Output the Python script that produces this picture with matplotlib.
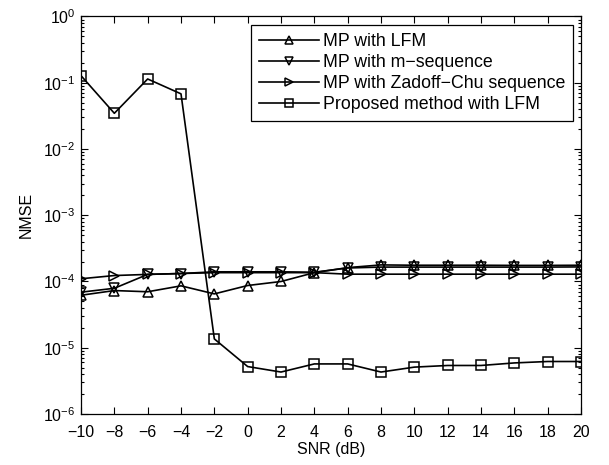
#!/usr/bin/env python3
"""NMSE vs SNR: MP baselines against the proposed method (log scale)."""

import math

import matplotlib
matplotlib.use("Agg")
import matplotlib.pyplot as plt
from matplotlib.ticker import LogLocator, FixedLocator, NullFormatter

plt.rcParams["font.family"] = ["Liberation Sans", "DejaVu Sans"]
plt.rcParams["mathtext.fontset"] = "custom"
plt.rcParams["mathtext.rm"] = "Liberation Sans"
plt.rcParams["mathtext.it"] = "Liberation Sans:italic"

# ─────────────────────────────────────────────
# Data
# ─────────────────────────────────────────────
snr = [-10, -8, -6, -4, -2, 0, 2, 4, 6, 8, 10, 12, 14, 16, 18, 20]

mp_lfm = [6.2e-5, 7.3e-5, 7.0e-5, 8.6e-5, 6.5e-5, 8.7e-5, 1.0e-4, 1.36e-4,
          1.62e-4, 1.78e-4, 1.76e-4, 1.76e-4, 1.76e-4, 1.75e-4, 1.75e-4, 1.76e-4]
mp_mseq = [6.9e-5, 7.9e-5, 1.28e-4, 1.32e-4, 1.4e-4, 1.4e-4, 1.4e-4, 1.38e-4,
           1.6e-4, 1.65e-4, 1.65e-4, 1.65e-4, 1.65e-4, 1.65e-4, 1.65e-4, 1.66e-4]
mp_zc = [1.1e-4, 1.23e-4, 1.28e-4, 1.32e-4, 1.36e-4, 1.36e-4, 1.36e-4, 1.36e-4,
         1.29e-4, 1.29e-4, 1.29e-4, 1.29e-4, 1.29e-4, 1.29e-4, 1.29e-4, 1.29e-4]
proposed = [0.128, 0.0346, 0.114, 0.068, 1.36e-5, 5.2e-6, 4.3e-6, 5.7e-6,
            5.7e-6, 4.3e-6, 5.1e-6, 5.4e-6, 5.4e-6, 5.9e-6, 6.2e-6, 6.2e-6]

y_decades = [1e-6, 1e-5, 1e-4, 1e-3, 1e-2, 1e-1, 1e0]

labels = ["MP with LFM", "MP with m\u2212sequence",
          "MP with Zadoff\u2212Chu sequence", "Proposed method with LFM"]

# ─────────────────────────────────────────────
# Chart
# ─────────────────────────────────────────────
fig = plt.figure(figsize=(6.09, 4.65), dpi=100)
ax = fig.add_axes([81 / 609, 1 - 414 / 465, 500 / 609, 397.5 / 465])

style = dict(color="black", lw=1.2, markerfacecolor="none",
             markeredgecolor="black", markeredgewidth=1.1)
ax.plot(snr, mp_lfm, marker="^", markersize=7.5, label=labels[0], **style)
ax.plot(snr, mp_mseq, marker="v", markersize=7.5, label=labels[1], **style)
ax.plot(snr, mp_zc, marker=">", markersize=7.5, label=labels[2], **style)
ax.plot(snr, proposed, marker="s", markersize=6.5, label=labels[3], **style)

ax.set_yscale("log")
ax.set_xlim(-10, 20)
ax.set_ylim(1e-6, 1e0)
ax.xaxis.set_major_locator(FixedLocator(snr))
ax.set_xticklabels([f"{v}".replace("-", "\u2212") for v in snr])
ax.yaxis.set_major_locator(FixedLocator(y_decades))
ax.set_yticklabels([f"$10^{{{int(round(math.log10(v)))}}}$".replace("-", "\u2212")
                    for v in y_decades])
ax.yaxis.set_minor_locator(LogLocator(base=10, subs=range(2, 10), numticks=20))
ax.yaxis.set_minor_formatter(NullFormatter())

ax.tick_params(which="both", direction="in", top=True, right=True,
               labelsize=11.5, width=0.8)
ax.tick_params(which="major", length=5)
ax.tick_params(axis="x", which="major", pad=8)
ax.tick_params(axis="y", which="major", pad=4)
ax.tick_params(which="minor", length=2.5)
for s in ax.spines.values():
    s.set_linewidth(0.9)

ax.set_xlabel("SNR (dB)", fontsize=11.5, labelpad=1)
ax.set_ylabel("NMSE", fontsize=11.5, labelpad=7)

leg = ax.legend(loc="upper right", bbox_to_anchor=(1 - 8 / 500, 1 - 9 / 397.5),
                fontsize=12.8, handlelength=3.4, handletextpad=0.2,
                borderpad=0.45, labelspacing=0.22, borderaxespad=0,
                fancybox=False, framealpha=1, edgecolor="black", markerscale=0.8)
leg.get_frame().set_linewidth(0.9)

plt.savefig("out.png")
plt.close()
